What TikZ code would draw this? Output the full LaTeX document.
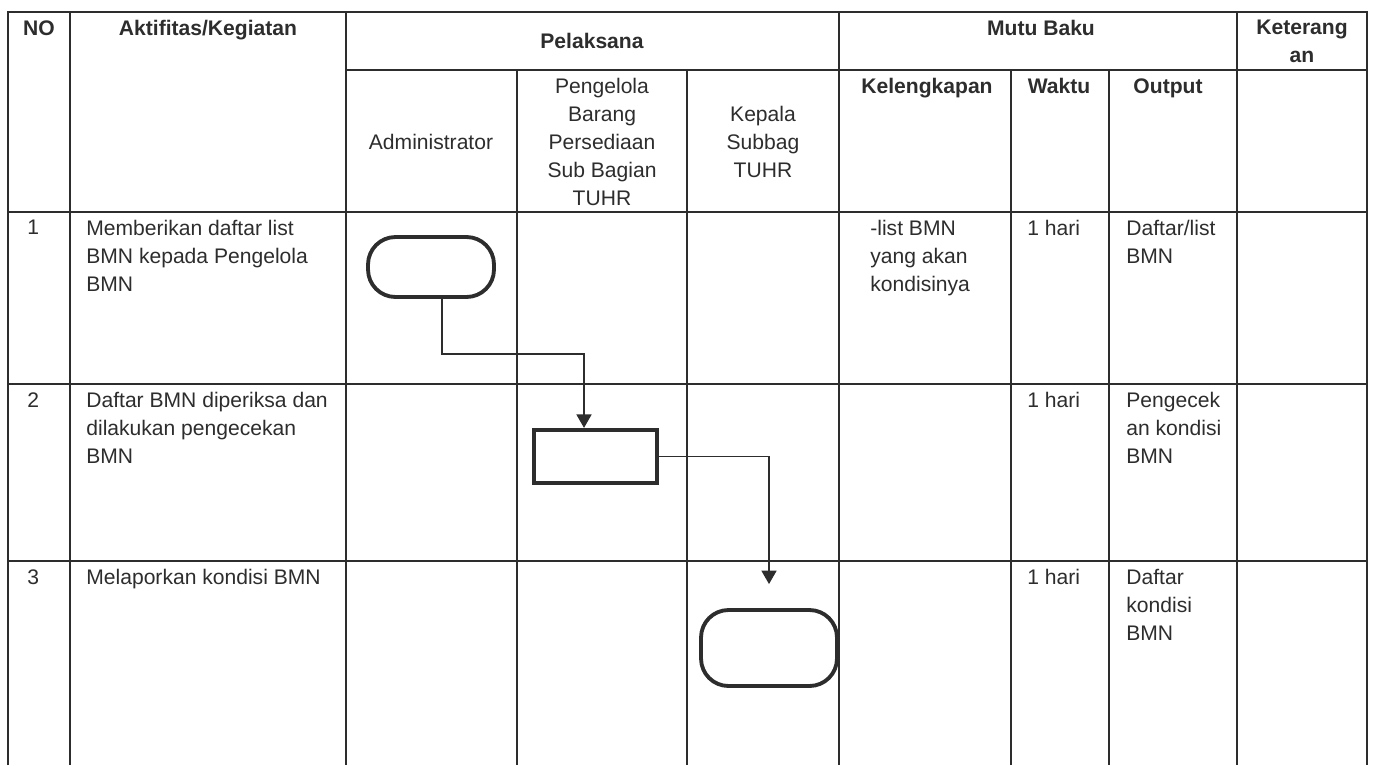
\documentclass[tikz,border=0pt]{standalone}
\usepackage{fontspec}
\setmainfont{Liberation Sans}
\usetikzlibrary{arrows.meta,positioning,calc}
\definecolor{inkgray}{RGB}{45,45,45}

\begin{document}
\begin{tikzpicture}[x=0.02cm,y=-0.02cm,
  grid/.style={draw=inkgray,line width=1pt},
  hd/.style={font=\fontsize{12}{15.9}\selectfont\bfseries,text=inkgray,align=center,inner sep=0pt},
  lane/.style={font=\fontsize{12}{15.9}\selectfont,text=inkgray,align=center,inner sep=0pt},
  cell/.style={font=\fontsize{12}{15.9}\selectfont,text=inkgray,align=left,anchor=north west,inner sep=0pt},
  term/.style={draw=inkgray,line width=2.2pt,rounded corners=0.55cm},
  proc/.style={draw=inkgray,line width=2.4pt},
  flow/.style={draw=inkgray,line width=1pt,-{Triangle[width=0.3cm,length=0.27cm]}}]
  \useasboundingbox (0,0) rectangle (1378,765);
  % table frame
  \draw[grid] (8,765) -- (8,12) -- (1367,12) -- (1367,765);
  \draw[grid] (346,70) -- (1367,70);
  \foreach \y in {212,384,561} \draw[grid] (8,\y) -- (1367,\y);
  \foreach \x in {70,346,839,1237} \draw[grid] (\x,12) -- (\x,765);
  \foreach \x in {517,687,1011,1109} \draw[grid] (\x,70) -- (\x,765);
  % header
  \node[hd,anchor=north] (hno) at (39,20) {NO};
  \node[hd,anchor=north] (hact) at (208,20) {Aktifitas/Kegiatan};
  \node[hd] (hpel) at (592,41) {Pelaksana};
  \node[hd,anchor=north] (hmutu) at (1041,20) {Mutu Baku};
  \node[hd,anchor=north] (hket) at (1302,20) {Keterang\\an};
  \node[lane] (ladm) at (431,142) {Administrator};
  \node[lane,anchor=north] (lpeng) at (602,78) {Pengelola\\Barang\\Persediaan\\Sub Bagian\\TUHR};
  \node[lane] (lkep) at (763,142) {Kepala\\Subbag\\TUHR};
  \node[hd,anchor=north] (hkel) at (927,78) {Kelengkapan};
  \node[hd,anchor=north] (hwak) at (1059,78) {Waktu};
  \node[hd,anchor=north] (hout) at (1168,78) {Output};
  % rows
  \node[cell] (n1) at (27,220) {1};
  \node[cell] (a1) at (86,220) {Memberikan daftar list\\BMN kepada Pengelola\\BMN};
  \node[cell] (k1) at (870,220) {-list BMN\\yang akan\\kondisinya};
  \node[cell] (w1) at (1027,220) {1 hari};
  \node[cell] (o1) at (1126,220) {Daftar/list\\BMN};
  \node[cell] (n2) at (27,392) {2};
  \node[cell] (a2) at (86,392) {Daftar BMN diperiksa dan\\dilakukan pengecekan\\BMN};
  \node[cell] (w2) at (1027,392) {1 hari};
  \node[cell] (o2) at (1126,392) {Pengecek\\an kondisi\\BMN};
  \node[cell] (n3) at (27,569) {3};
  \node[cell] (a3) at (86,569) {Melaporkan kondisi BMN};
  \node[cell] (w3) at (1027,569) {1 hari};
  \node[cell] (o3) at (1126,569) {Daftar\\kondisi\\BMN};
  % flow shapes
  \node[term,minimum width=2.52cm,minimum height=1.2cm] (t1) at (431,267) {};
  \node[proc,minimum width=2.46cm,minimum height=1.06cm] (p2) at (595.5,456.5) {};
  \node[term,minimum width=2.72cm,minimum height=1.52cm] (t3) at (769,648) {};
  \coordinate (c1) at (442,354);
  \coordinate (c2) at (584,354);
  \draw[flow] (t1.south -| c1) -- (c1) -- (c2) -- (p2.north -| c2);
  \draw[flow,shorten >=0.48cm] (p2.east) -| (t3.north);
\end{tikzpicture}
\end{document}
